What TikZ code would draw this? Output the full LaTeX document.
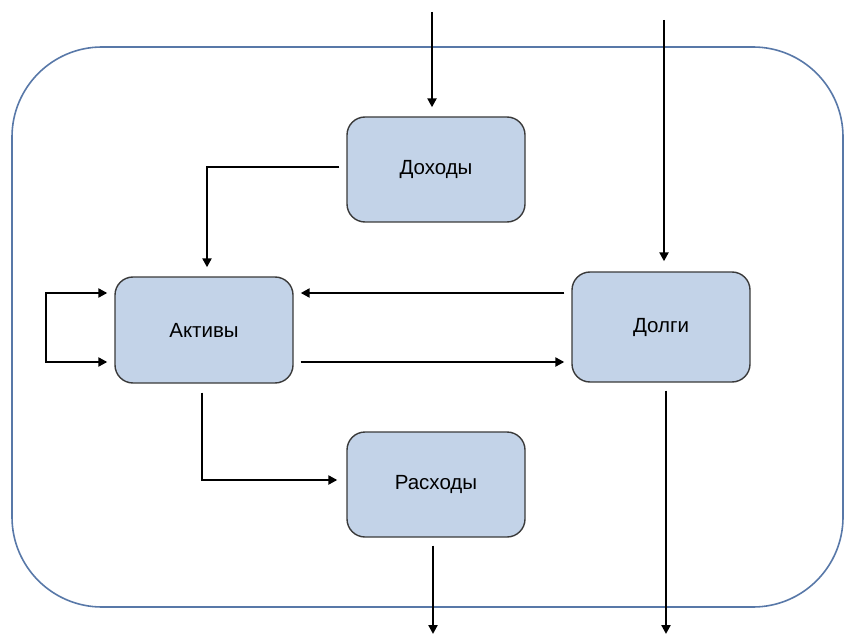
\documentclass[tikz,border=0pt]{standalone}
\usepackage{fontspec}
\setmainfont{Liberation Sans}
\usetikzlibrary{arrows.meta,calc}
\definecolor{boxfill}{HTML}{C3D3E8}
\definecolor{boxline}{HTML}{3A3A3A}
\definecolor{frameline}{HTML}{5878A8}
\tikzset{
  block/.style={draw=boxline, line width=1.4pt, fill=boxfill, rounded corners=18pt,
    minimum width=178pt, minimum height=105pt, inner sep=0pt, font=\fontsize{20.5}{24}\selectfont},
  arr/.style={draw=black, line width=2.3pt, -{Triangle[length=9pt,width=9pt]}},
  darr/.style={draw=black, line width=2.3pt, {Triangle[length=9pt,width=9pt]}-{Triangle[length=9pt,width=9pt]}}
}
\begin{document}
\begin{tikzpicture}[x=1pt,y=-1pt]
\useasboundingbox (0,0) rectangle (845,636);
% outer frame
\draw[frameline, line width=1.6pt, rounded corners=90pt] (12,47) rectangle (843,607);
% blocks
\node[block] (doh) at (436,169.5) {Доходы};
\node[block, minimum height=106pt] (akt) at (204,330) {Активы};
\node[block, minimum height=110pt] (dol) at (661,327) {Долги};
\node[block] (ras) at (436,484.5) {Расходы};
% helper coordinates
\coordinate (t1) at (432,12);
\coordinate (t2) at (664,20);
\coordinate (b1) at (433,636);
\coordinate (b2) at (666,636);
\coordinate (yA) at (0,293);
\coordinate (yB) at (0,362);
\coordinate (yC) at (0,167);
\coordinate (yD) at (0,480);
\coordinate (xL) at (46,0);
\coordinate (xA) at (207,0);
\coordinate (xR) at (202,0);
% connectors
\draw[arr, shorten >=9pt] (t1) -- (t1 |- doh.north);
\draw[arr, shorten >=10pt] (t2) -- (t2 |- dol.north);
\draw[arr, shorten <=7pt, shorten >=9pt] (doh.west |- yC) -| (xA |- akt.north);
\draw[arr, shorten <=7pt, shorten >=7pt] (dol.west |- yA) -- (akt.east |- yA);
\draw[arr, shorten <=7pt, shorten >=7pt] (akt.east |- yB) -- (dol.west |- yB);
\draw[darr, shorten <=7pt, shorten >=7pt] (akt.west |- yA) -- (xL |- yA) -- (xL |- yB) -- (akt.west |- yB);
\draw[arr, shorten <=9pt, shorten >=9pt] (xR |- akt.south) |- (ras.west |- yD);
\draw[arr, shorten <=8pt, shorten >=2pt] (b1 |- ras.south) -- (b1);
\draw[arr, shorten <=8pt, shorten >=2pt] (b2 |- dol.south) -- (b2);
\end{tikzpicture}
\end{document}
